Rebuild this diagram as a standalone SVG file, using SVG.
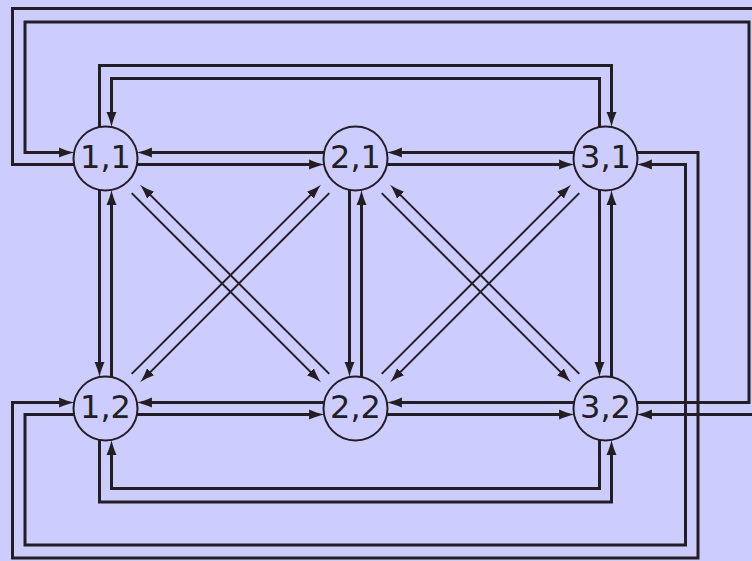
<svg xmlns="http://www.w3.org/2000/svg" width="752" height="561" viewBox="0 0 752 561">
  <style>
    .bg { fill: #ccccff; }
    .node circle { fill: #ccccff; stroke: #231f20; stroke-width: 2; }
    .node text { font-family: "DejaVu Sans", "Liberation Sans", sans-serif; font-size: 32px; fill: #231f20; text-anchor: middle; }
    .edge { fill: none; stroke: #231f20; stroke-width: 3; stroke-linejoin: miter; marker-end: url(#arr); }
    .diag { fill: none; stroke: #231f20; stroke-width: 2; marker-end: url(#arr); }
  </style>
  <defs>
    <marker id="arr" markerUnits="userSpaceOnUse" markerWidth="18" markerHeight="12" viewBox="0 -6 18 12" refX="9" refY="0" orient="auto">
      <path d="M15,0 C10,-1 4.5,-3 0,-5 L0,5 C4.5,3 10,1 15,0 Z" fill="#231f20"/>
    </marker>
  </defs>
  <rect class="bg" x="0" y="0" width="752" height="561"/>
  <g id="connectors">
    <!-- row 1 horizontal -->
    <path class="edge" d="M324.1,152.5 H142.9"/>
    <path class="edge" d="M136.9,164.5 H318.1"/>
    <path class="edge" d="M574.1,152.5 H392.9"/>
    <path class="edge" d="M386.9,164.5 H568.1"/>
    <!-- row 2 horizontal -->
    <path class="edge" d="M324.1,402.5 H142.9"/>
    <path class="edge" d="M136.9,414.5 H318.1"/>
    <path class="edge" d="M574.1,402.5 H392.9"/>
    <path class="edge" d="M386.9,414.5 H568.1"/>
    <!-- verticals -->
    <path class="edge" d="M99.5,189.9 V371.1"/>
    <path class="edge" d="M111.5,377.1 V195.9"/>
    <path class="edge" d="M349.5,189.9 V371.1"/>
    <path class="edge" d="M361.5,377.1 V195.9"/>
    <path class="edge" d="M599.5,189.9 V371.1"/>
    <path class="edge" d="M611.5,377.1 V195.9"/>
    <!-- wrap-around -->
    <path class="edge" d="M99.5,127.1 V65.5 H611.5 V121.1"/>
    <path class="edge" d="M599.5,127.1 V78.5 H111.5 V121.1"/>
    <path class="edge" d="M636.9,402.5 H749 V22 H25 V152.5 H68.1"/>
    <path class="edge" d="M74.1,164.5 H12.5 V8.5 H770 V414.5 H642.9"/>
    <path class="edge" d="M636.9,152.5 H698 V558 H12.5 V402.5 H68.1"/>
    <path class="edge" d="M74.1,414.5 H25 V545 H685.5 V164.5 H642.9"/>
    <path class="edge" d="M99.5,439.9 V502 H611.5 V445.9"/>
    <path class="edge" d="M599.5,439.9 V488.5 H111.5 V445.9"/>
    <!-- diagonals cols 1-2 -->
    <path class="diag" d="M329.3,373.9 L144.3,188.9"/>
    <path class="diag" d="M131.7,193.1 L316.7,378.1"/>
    <path class="diag" d="M131.7,373.9 L316.7,188.9"/>
    <path class="diag" d="M329.3,193.1 L144.3,378.1"/>
    <!-- diagonals cols 2-3 -->
    <path class="diag" d="M579.3,373.9 L394.3,188.9"/>
    <path class="diag" d="M381.7,193.1 L566.7,378.1"/>
    <path class="diag" d="M381.7,373.9 L566.7,188.9"/>
    <path class="diag" d="M579.3,193.1 L394.3,378.1"/>
  </g>
  <g id="n11" class="node"><circle cx="105.5" cy="158.5" r="32"/><text x="105.5" y="167.5">1,1</text></g>
  <g id="n21" class="node"><circle cx="355.5" cy="158.5" r="32"/><text x="355.5" y="167.5">2,1</text></g>
  <g id="n31" class="node"><circle cx="605.5" cy="158.5" r="32"/><text x="605.5" y="167.5">3,1</text></g>
  <g id="n12" class="node"><circle cx="105.5" cy="408.5" r="32"/><text x="105.5" y="417.5">1,2</text></g>
  <g id="n22" class="node"><circle cx="355.5" cy="408.5" r="32"/><text x="355.5" y="417.5">2,2</text></g>
  <g id="n32" class="node"><circle cx="605.5" cy="408.5" r="32"/><text x="605.5" y="417.5">3,2</text></g>
</svg>
